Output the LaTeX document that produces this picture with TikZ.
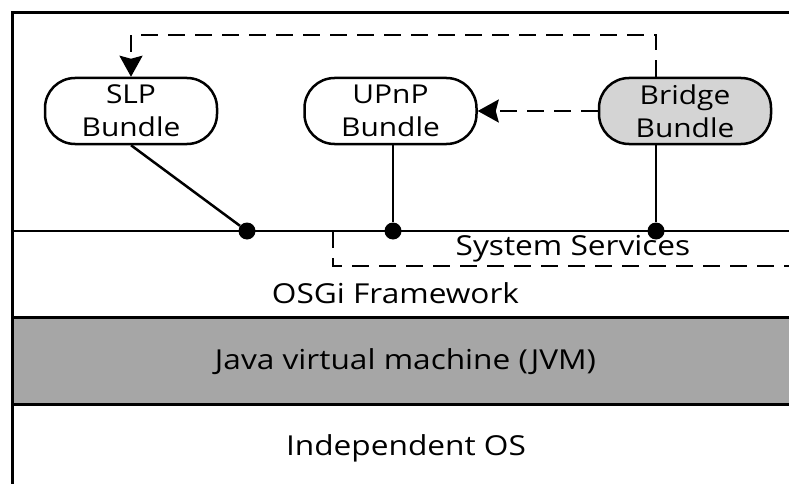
\documentclass[tikz,border=0pt]{standalone}
\usepackage{fontspec}
\setmainfont[FakeStretch=1.15]{Open Sans}
\usetikzlibrary{arrows.meta}
\definecolor{jvmgray}{HTML}{A6A6A6}
\definecolor{bridgegray}{HTML}{D4D4D4}
\begin{document}
\begin{tikzpicture}[x=1pt,y=-1pt,
  bundle/.style={draw,line width=2.5pt,rounded corners=30pt,minimum width=172pt,
    minimum height=66pt,align=center,inner sep=0pt,
    font=\fontsize{26}{33}\selectfont},
  layer/.style={anchor=base,inner sep=0pt,font=\fontsize{27.5}{33}\selectfont},
  joint/.style={circle,fill,inner sep=0pt,minimum size=17pt},
  link/.style={line width=2.5pt},
  dashlink/.style={line width=2.5pt,dash pattern=on 17pt off 10pt},
  tip/.style={-{Stealth[length=21pt,width=23pt,inset=3pt]}},
  frame/.style={line width=3pt}
]
\useasboundingbox (0,0) rectangle (789,484);

% Java virtual machine band
\fill[jvmgray] (12,317) rectangle (789,404);

% Layer boundaries
\draw[frame] (789,13) -- (12,13) -- (12,484);
\draw[link] (12,231) -- (789,231);
\draw[frame] (12,317) -- (789,317);
\draw[frame] (12,404) -- (789,404);

% System services region
\draw[dashlink] (333,231) -- (333,266) -- (789,266);

% Bundles
\node[bundle] (slp) at (131,111) {SLP\\Bundle};
\node[bundle] (upnp) at (390.5,111) {UPnP\\Bundle};
\node[bundle,fill=bridgegray] (bridge) at (685,111) {Bridge\\Bundle};

% Service registration points
\node[joint] (dslp) at (247,231) {};
\node[joint] (dupnp) at (393,231) {};
\node[joint] (dbridge) at (656,231) {};

\draw[link] (slp.south) -- (dslp);
\draw[link] (dupnp |- upnp.south) -- (dupnp);
\draw[link] (dbridge |- bridge.south) -- (dbridge);

% Bridge interactions
\coordinate (turn) at (656,35);
\draw[dashlink,tip] (dbridge |- bridge.north) -- (turn) -| (slp.north);
\draw[dashlink,tip] (bridge.west) -- (upnp.east);

% Layer labels
\node[layer] (sys) at (573,255) {System Services};
\node[layer] (osgi) at (395.5,303) {OSGi Framework};
\node[layer] (jvm) at (405.5,369) {Java virtual machine (JVM)};
\node[layer] (os) at (406,455) {Independent OS};
\end{tikzpicture}
\end{document}
